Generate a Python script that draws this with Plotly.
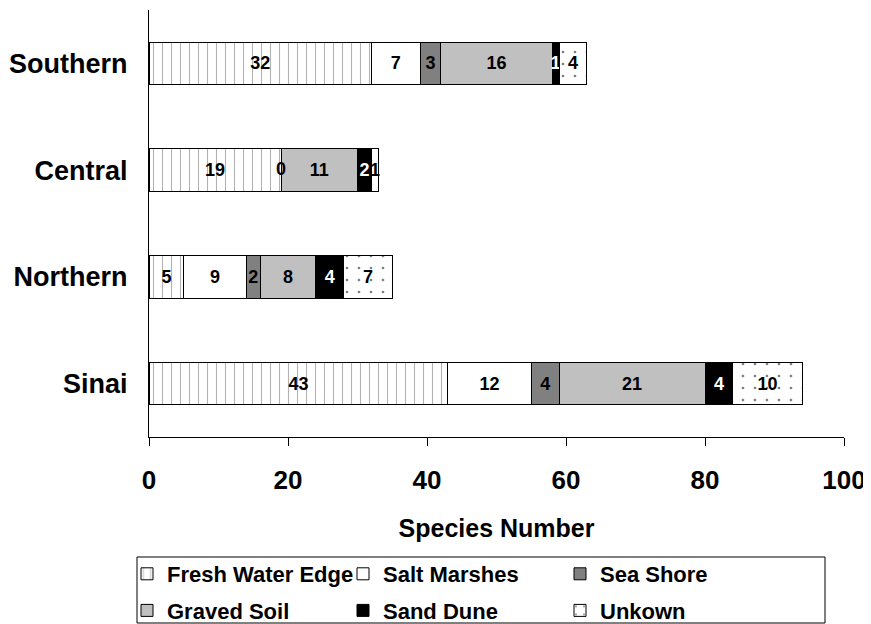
import plotly.graph_objects as go

regions = ["Sinai", "Northern", "Central", "Southern"]
fresh_water_edge = [43, 5, 19, 32]
salt_marshes = [12, 9, 0, 7]
sea_shore = [4, 2, None, 3]
graved_soil = [21, 8, 11, 16]
sand_dune = [4, 4, 2, 1]
unknown = [10, 7, 1, 4]

x_ticks = [0, 20, 40, 60, 80, 100]

FONT = "Liberation Sans, Arial, sans-serif"
OFF = 8  # page body margin offset
W, H = 871 - OFF, 624 - OFF
# plot area in page pixels: x 149..844, y 10..437
PL, PR, PT, PB = 149, 844, 10, 437
L, R, T, B = PL - OFF, W - (PR - OFF), PT - OFF, H - (PB - OFF)

series = [
    ("Fresh Water Edge", fresh_water_edge, dict(color="white", pattern=dict(shape="|", fgcolor="#666666", bgcolor="white", size=9, solidity=0.12)), "black", "legend"),
    ("Salt Marshes", salt_marshes, dict(color="white"), "black", "legend2"),
    ("Sea Shore", sea_shore, dict(color="#808080"), "black", "legend3"),
    ("Graved Soil", graved_soil, dict(color="#C0C0C0"), "black", "legend"),
    ("Sand Dune", sand_dune, dict(color="black"), "white", "legend2"),
    ("Unkown", unknown, dict(color="white", pattern=dict(shape=".", fgcolor="black", bgcolor="white", size=12, solidity=0.04)), "black", "legend3"),
]

fig = go.Figure()
cum = [0] * len(regions)
zero_x, zero_y = [], []
for name, vals, marker, tcolor, leg in series:
    marker = dict(marker)
    marker["line"] = dict(color="black", width=1)
    fig.add_trace(go.Bar(
        name=name, y=regions, x=vals, orientation="h",
        marker=marker,
        text=[("" if v is None else str(v)) for v in vals],
        textposition="inside", insidetextanchor="middle", textangle=0,
        textfont=dict(family=FONT, size=18, color=tcolor, weight="bold"),
        legend=leg, legendgroup=name, width=0.4,
    ))
    for i, v in enumerate(vals):
        if v == 0:
            zero_x.append(cum[i])
            zero_y.append(regions[i])
        if v is not None:
            cum[i] += v

# labels for zero-valued segments (at the segment's stacked position)
fig.add_trace(go.Scatter(
    x=zero_x, y=zero_y, mode="text", text=["0"] * len(zero_x),
    textfont=dict(family=FONT, size=18, color="black", weight="bold"),
    showlegend=False, hoverinfo="skip", cliponaxis=False,
))

leg_common = dict(orientation="v", yanchor="top", xanchor="left",
                  xref="container", yref="container",
                  font=dict(family=FONT, size=22, color="black", weight="bold"),
                  bgcolor="rgba(0,0,0,0)", itemwidth=30, tracegroupgap=5,
                  traceorder="grouped")

def cx(p):  # page px -> container fraction
    return (p - OFF) / W

def cy(p):
    return 1 - (p - OFF) / H

def px_x(p):  # page px -> paper fraction
    return (p - PL) / (PR - PL)

def px_y(p):
    return (PB - p) / (PB - PT)

fig.update_layout(
    width=W, height=H,
    margin=dict(l=L, r=R, t=T, b=B, autoexpand=False),
    paper_bgcolor="white", plot_bgcolor="white",
    barmode="stack",
    showlegend=True,
    uniformtext=dict(minsize=18, mode="show"),
    legend=dict(x=cx(127), y=cy(553), **leg_common),
    legend2=dict(x=cx(343), y=cy(553), **leg_common),
    legend3=dict(x=cx(560), y=cy(553), **leg_common),
    xaxis=dict(range=[0, 100], tickvals=x_ticks, ticks="outside", ticklen=8,
               tickcolor="black", showline=True, linecolor="black", linewidth=1,
               showgrid=False, zeroline=False, ticklabelstandoff=12,
               tickfont=dict(family=FONT, size=26, color="black", weight="bold"),
               title=dict(text="Species Number", standoff=25,
                          font=dict(family=FONT, size=25, color="black", weight="bold"))),
    yaxis=dict(showline=True, linecolor="black", linewidth=1, showgrid=False,
               ticks="", ticklabelstandoff=15, range=[-0.5, 3.5],
               tickfont=dict(family=FONT, size=27, color="black", weight="bold")),
    shapes=[dict(type="rect", xref="paper", yref="paper",
                 x0=px_x(137), x1=px_x(825), y0=px_y(557), y1=px_y(623),
                 line=dict(color="black", width=1), fillcolor="rgba(0,0,0,0)")],
)

fig.write_html("out.html")
